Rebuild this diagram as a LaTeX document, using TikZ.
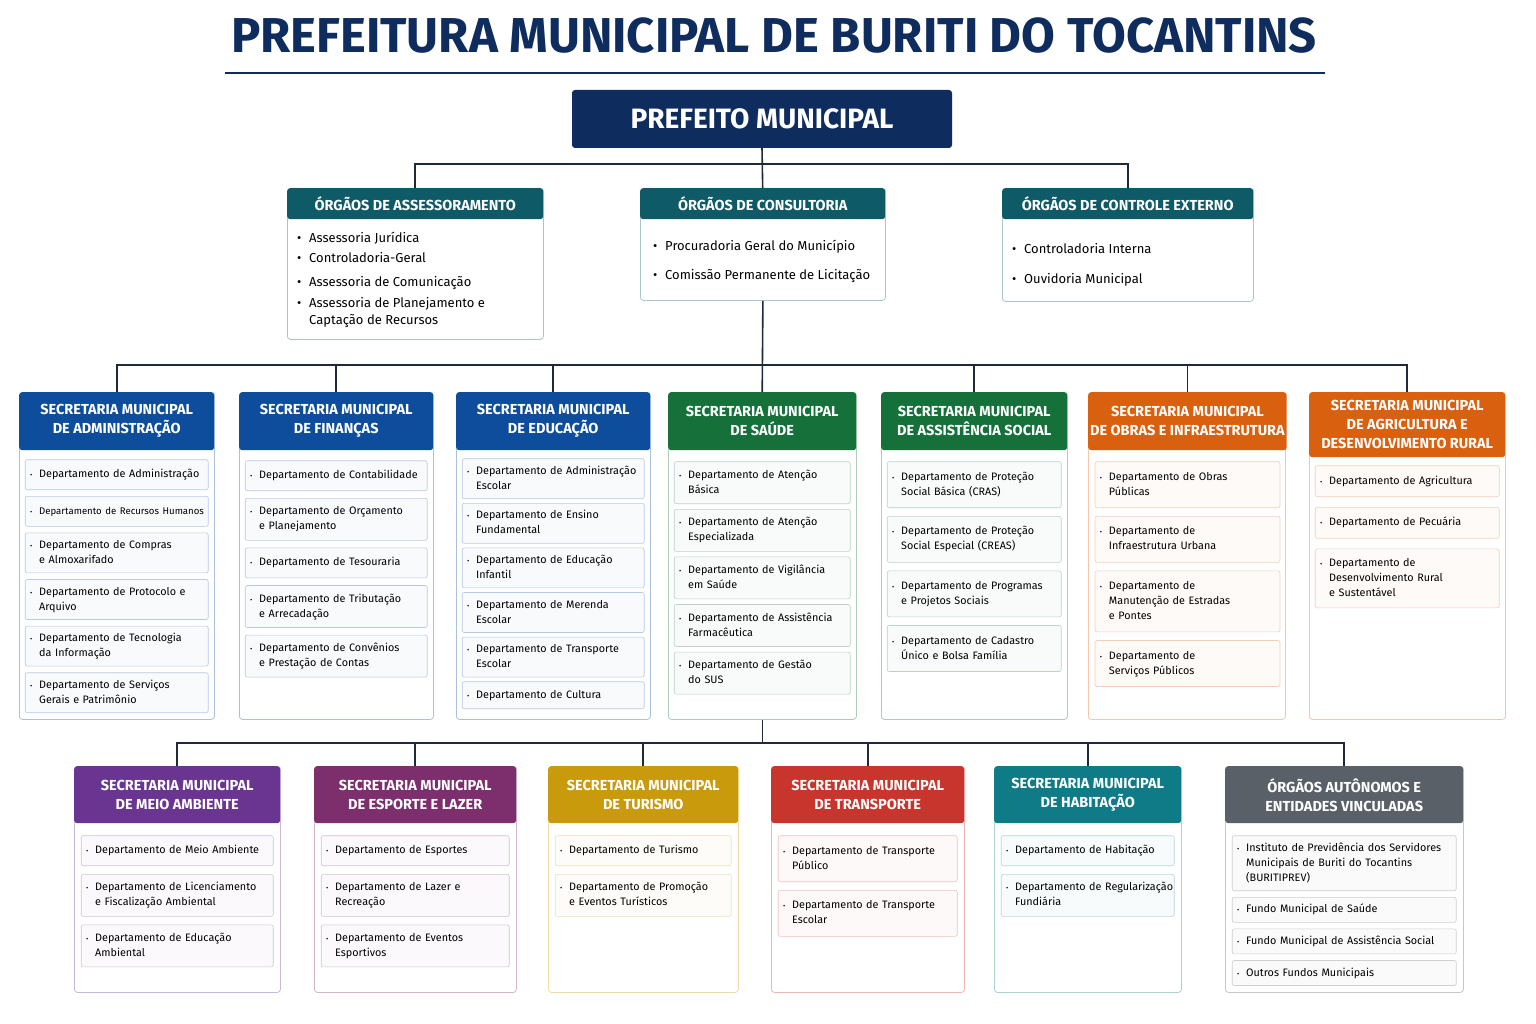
\documentclass[tikz,border=0pt]{standalone}
\usepackage{fontspec}
\setmainfont{Fira Sans}
\usetikzlibrary{positioning}
\definecolor{navy}{HTML}{0F2C5E}
\definecolor{tealtop}{HTML}{0E5A66}
\definecolor{blu}{HTML}{0D4D9C}
\definecolor{grn}{HTML}{16703A}
\definecolor{org}{HTML}{D9600E}
\definecolor{pur}{HTML}{6A3591}
\definecolor{plum}{HTML}{7C2E6D}
\definecolor{gold}{HTML}{C99A0B}
\definecolor{rd}{HTML}{C7352D}
\definecolor{tel}{HTML}{0F7B87}
\definecolor{gry}{HTML}{5A6068}
\definecolor{wire}{HTML}{1E2A3A}
\tikzset{
  panel/.style={draw=#1!35, fill=white, rounded corners=3pt, line width=0.8pt, inner sep=0pt},
  hdr/.style={fill=#1, text=white, rounded corners=3pt, inner sep=2pt, align=center,
    font=\fontsize{14.5}{19}\selectfont\bfseries},
  item/.style 2 args={draw=#1!30, fill=#1!3, rounded corners=2pt, line width=0.6pt,
    text width=#2, inner xsep=5pt, inner ysep=7.5pt, font=\fontsize{10.8}{15}\selectfont},
  wireline/.style={draw=wire, line width=1.6pt},
}
\newcommand\dep[1]{\begin{tabular}[t]{@{}p{9pt}@{}l@{}}{\fontsize{7}{7}\selectfont\textbullet}&\begin{tabular}[t]{@{}l@{}}#1\end{tabular}\end{tabular}}
% #1 name, #2 x1, #3 x2, #4 y1, #5 y2, #6 header height, #7 colour, #8 title
\newcommand\panel[8]{%
  \node[panel=#7, minimum width=#3pt-#2pt, minimum height=#5pt-#4pt, anchor=north west] (#1) at (#2,#4) {};
  \node[hdr=#7, minimum width=#3pt-#2pt, minimum height=#6pt, anchor=north west] (#1h) at (#2,#4) {#8};}

\begin{document}
\begin{tikzpicture}[x=1pt,y=-1pt]
  \useasboundingbox[fill=white] (0,0) rectangle (1536,1024);

  % title
  \node[text=navy, font=\fontsize{49}{55}\selectfont\bfseries] (title) at (774,36) {PREFEITURA MUNICIPAL DE BURITI DO TOCANTINS};
  \draw[navy, line width=1.5pt] (225,73) -- (1325,73);

  \node[fill=navy, text=white, rounded corners=3pt, minimum width=380pt, minimum height=58pt,
    font=\fontsize{28}{32}\selectfont\bfseries] (pref) at (762,119) {PREFEITO MUNICIPAL};

  % top boxes
  \panel{ass}{287}{543}{188}{339}{31}{tealtop}{ÓRGÃOS DE ASSESSORAMENTO}
  \panel{con}{640}{885}{188}{300}{31}{tealtop}{ÓRGÃOS DE CONSULTORIA}
  \panel{ext}{1002}{1253}{188}{301}{31}{tealtop}{ÓRGÃOS DE CONTROLE EXTERNO}
  \node[anchor=north west, inner sep=0pt, font=\fontsize{13}{20}\selectfont] (assl) at (297,228)
    {\begin{tabular}{@{}p{12pt}@{}l@{}}\textbullet&Assessoria Jurídica\\\textbullet&Controladoria-Geral\\[4pt]
     \textbullet&Assessoria de Comunicação\\[1pt]\textbullet&Assessoria de Planejamento e\\&\raisebox{3pt}{Captação de Recursos}\end{tabular}};
  \node[anchor=north west, inner sep=0pt, font=\fontsize{13}{29}\selectfont] (conl) at (653,230)
    {\begin{tabular}{@{}p{12pt}@{}l@{}}\textbullet&Procuradoria Geral do Município\\\textbullet&Comissão Permanente de Licitação\end{tabular}};
  \node[anchor=north west, inner sep=0pt, font=\fontsize{13}{30}\selectfont] (extl) at (1012,232)
    {\begin{tabular}{@{}p{12pt}@{}l@{}}\textbullet&Controladoria Interna\\\textbullet&Ouvidoria Municipal\end{tabular}};

  \draw[wireline] (pref.south) -- (conh.north);
  \coordinate (bus0) at (762,164);
  \draw[wireline] (assh.north) |- (bus0) -| (exth.north);

  % first row
  \panel{adm}{19}{214}{392}{719}{58}{blu}{SECRETARIA MUNICIPAL\\DE ADMINISTRAÇÃO}
  \panel{fin}{239}{433}{392}{719}{58}{blu}{SECRETARIA MUNICIPAL\\DE FINANÇAS}
  \panel{edu}{456}{650}{392}{719}{58}{blu}{SECRETARIA MUNICIPAL\\DE EDUCAÇÃO}
  \panel{sau}{668}{856}{392}{719}{58}{grn}{SECRETARIA MUNICIPAL\\DE SAÚDE}
  \panel{soc}{881}{1067}{392}{719}{58}{grn}{SECRETARIA MUNICIPAL\\DE ASSISTÊNCIA SOCIAL}
  \panel{obr}{1088}{1285}{392}{719}{58}{org}{SECRETARIA MUNICIPAL\\DE OBRAS E INFRAESTRUTURA}
  \panel{agr}{1309}{1505}{392}{719}{65}{org}{SECRETARIA MUNICIPAL\\DE AGRICULTURA E\\DESENVOLVIMENTO RURAL}

  \draw[wireline] (con.south) -- (sauh.north);
  \coordinate (bus1) at (762,365);
  \foreach \n in {adm,fin,edu,soc,obr,agr} \draw[wireline] (\n h.north) |- (bus1);

  \node[item={blu}{173pt}, below=9pt of admh] (adm1) {\dep{Departamento de Administração}};
  \node[item={blu}{173pt}, below=6pt of adm1] (adm2) {\dep{\fontsize{9.6}{14}\selectfont Departamento de Recursos Humanos}};
  \node[item={blu}{173pt}, below=6pt of adm2, inner ysep=5pt] (adm3) {\dep{Departamento de Compras\\e Almoxarifado}};
  \node[item={blu}{173pt}, below=6pt of adm3, inner ysep=5pt] (adm4) {\dep{Departamento de Protocolo e\\Arquivo}};
  \node[item={blu}{173pt}, below=6pt of adm4, inner ysep=5pt] (adm5) {\dep{Departamento de Tecnologia\\da Informação}};
  \node[item={blu}{173pt}, below=6pt of adm5, inner ysep=5pt] (adm6) {\dep{Departamento de Serviços\\Gerais e Patrimônio}};

  \node[item={blu}{172pt}, below=10pt of finh] (fin1) {\dep{Departamento de Contabilidade}};
  \node[item={blu}{172pt}, below=7pt of fin1, inner ysep=6pt] (fin2) {\dep{Departamento de Orçamento\\e Planejamento}};
  \node[item={blu}{172pt}, below=7pt of fin2] (fin3) {\dep{Departamento de Tesouraria}};
  \node[item={blu}{172pt}, below=7pt of fin3, inner ysep=6pt] (fin4) {\dep{Departamento de Tributação\\e Arrecadação}};
  \node[item={blu}{172pt}, below=7pt of fin4, inner ysep=6pt] (fin5) {\dep{Departamento de Convênios\\e Prestação de Contas}};

  \node[item={blu}{172pt}, below=8pt of eduh, inner ysep=5pt] (edu1) {\dep{Departamento de Administração\\Escolar}};
  \node[item={blu}{172pt}, below=4pt of edu1, inner ysep=5pt] (edu2) {\dep{Departamento de Ensino\\Fundamental}};
  \node[item={blu}{172pt}, below=4pt of edu2, inner ysep=5pt] (edu3) {\dep{Departamento de Educação\\Infantil}};
  \node[item={blu}{172pt}, below=4pt of edu3, inner ysep=5pt] (edu4) {\dep{Departamento de Merenda\\Escolar}};
  \node[item={blu}{172pt}, below=4pt of edu4, inner ysep=5pt] (edu5) {\dep{Departamento de Transporte\\Escolar}};
  \node[item={blu}{172pt}, below=4pt of edu5, inner ysep=6pt] (edu6) {\dep{Departamento de Cultura}};

  \node[item={grn}{166pt}, below=11pt of sauh, inner ysep=6pt] (sau1) {\dep{Departamento de Atenção\\Básica}};
  \node[item={grn}{166pt}, below=5pt of sau1, inner ysep=6pt] (sau2) {\dep{Departamento de Atenção\\Especializada}};
  \node[item={grn}{166pt}, below=5pt of sau2, inner ysep=6pt] (sau3) {\dep{Departamento de Vigilância\\em Saúde}};
  \node[item={grn}{166pt}, below=5pt of sau3, inner ysep=6pt] (sau4) {\dep{Departamento de Assistência\\Farmacêutica}};
  \node[item={grn}{166pt}, below=5pt of sau4, inner ysep=6pt] (sau5) {\dep{Departamento de Gestão\\do SUS}};

  \node[item={grn}{164pt}, below=11pt of soch, inner ysep=8pt] (soc1) {\dep{Departamento de Proteção\\Social Básica (CRAS)}};
  \node[item={grn}{164pt}, below=8pt of soc1, inner ysep=8pt] (soc2) {\dep{Departamento de Proteção\\Social Especial (CREAS)}};
  \node[item={grn}{164pt}, below=8pt of soc2, inner ysep=8pt] (soc3) {\dep{Departamento de Programas\\e Projetos Sociais}};
  \node[item={grn}{164pt}, below=8pt of soc3, inner ysep=8pt] (soc4) {\dep{Departamento de Cadastro\\Único e Bolsa Família}};

  \node[item={org}{175pt}, below=11pt of obrh, inner ysep=8pt] (obr1) {\dep{Departamento de Obras\\Públicas}};
  \node[item={org}{175pt}, below=8pt of obr1, inner ysep=8pt] (obr2) {\dep{Departamento de\\Infraestrutura Urbana}};
  \node[item={org}{175pt}, below=8pt of obr2, inner ysep=8pt] (obr3) {\dep{Departamento de\\Manutenção de Estradas\\e Pontes}};
  \node[item={org}{175pt}, below=8pt of obr3, inner ysep=8pt] (obr4) {\dep{Departamento de\\Serviços Públicos}};

  \node[item={org}{174pt}, below=8pt of agrh, inner ysep=8pt] (agr1) {\dep{Departamento de Agricultura}};
  \node[item={org}{174pt}, below=10pt of agr1, inner ysep=8pt] (agr2) {\dep{Departamento de Pecuária}};
  \node[item={org}{174pt}, below=10pt of agr2, inner ysep=7pt] (agr3) {\dep{Departamento de\\Desenvolvimento Rural\\e Sustentável}};

  % second row
  \panel{amb}{74}{280}{766}{992}{57}{pur}{SECRETARIA MUNICIPAL\\DE MEIO AMBIENTE}
  \panel{esp}{314}{516}{766}{992}{57}{plum}{SECRETARIA MUNICIPAL\\DE ESPORTE E LAZER}
  \panel{tur}{548}{738}{766}{992}{57}{gold}{SECRETARIA MUNICIPAL\\DE TURISMO}
  \panel{tra}{771}{964}{766}{992}{57}{rd}{SECRETARIA MUNICIPAL\\DE TRANSPORTE}
  \panel{hab}{994}{1181}{766}{992}{57}{tel}{SECRETARIA MUNICIPAL\\DE HABITAÇÃO}
  \panel{aut}{1225}{1463}{766}{992}{57}{gry}{ÓRGÃOS AUTÔNOMOS E\\ENTIDADES VINCULADAS}

  \draw[wireline] (sau.south) -- ++(0,23) coordinate (bus2);
  \foreach \n in {amb,esp,tur,tra,hab,aut} \draw[wireline] (\n h.north) |- (bus2);

  \node[item={pur}{182pt}, below=12pt of ambh] (amb1) {\dep{Departamento de Meio Ambiente}};
  \node[item={pur}{182pt}, below=8pt of amb1, inner ysep=6pt] (amb2) {\dep{Departamento de Licenciamento\\e Fiscalização Ambiental}};
  \node[item={pur}{182pt}, below=8pt of amb2, inner ysep=6pt] (amb3) {\dep{Departamento de Educação\\Ambiental}};

  \node[item={plum}{178pt}, below=12pt of esph] (esp1) {\dep{Departamento de Esportes}};
  \node[item={plum}{178pt}, below=8pt of esp1, inner ysep=6pt] (esp2) {\dep{Departamento de Lazer e\\Recreação}};
  \node[item={plum}{178pt}, below=8pt of esp2, inner ysep=6pt] (esp3) {\dep{Departamento de Eventos\\Esportivos}};

  \node[item={gold}{166pt}, below=12pt of turh] (tur1) {\dep{Departamento de Turismo}};
  \node[item={gold}{166pt}, below=8pt of tur1, inner ysep=6pt] (tur2) {\dep{Departamento de Promoção\\e Eventos Turísticos}};

  \node[item={rd}{169pt}, below=12pt of trah, inner ysep=8pt] (tra1) {\dep{Departamento de Transporte\\Público}};
  \node[item={rd}{169pt}, below=8pt of tra1, inner ysep=8pt] (tra2) {\dep{Departamento de Transporte\\Escolar}};

  \node[item={tel}{163pt}, below=12pt of habh] (hab1) {\dep{Departamento de Habitação}};
  \node[item={tel}{163pt}, below=8pt of hab1, inner ysep=6pt] (hab2) {\dep{Departamento de Regularização\\Fundiária}};

  \node[item={gry}{214pt}, below=12pt of auth, inner ysep=5pt] (aut1) {\dep{Instituto de Previdência dos Servidores\\Municipais de Buriti do Tocantins\\(BURITIPREV)}};
  \node[item={gry}{214pt}, below=6pt of aut1, inner ysep=5pt] (aut2) {\dep{Fundo Municipal de Saúde}};
  \node[item={gry}{214pt}, below=6pt of aut2, inner ysep=5pt] (aut3) {\dep{Fundo Municipal de Assistência Social}};
  \node[item={gry}{214pt}, below=6pt of aut3, inner ysep=5pt] (aut4) {\dep{Outros Fundos Municipais}};
\end{tikzpicture}
\end{document}
